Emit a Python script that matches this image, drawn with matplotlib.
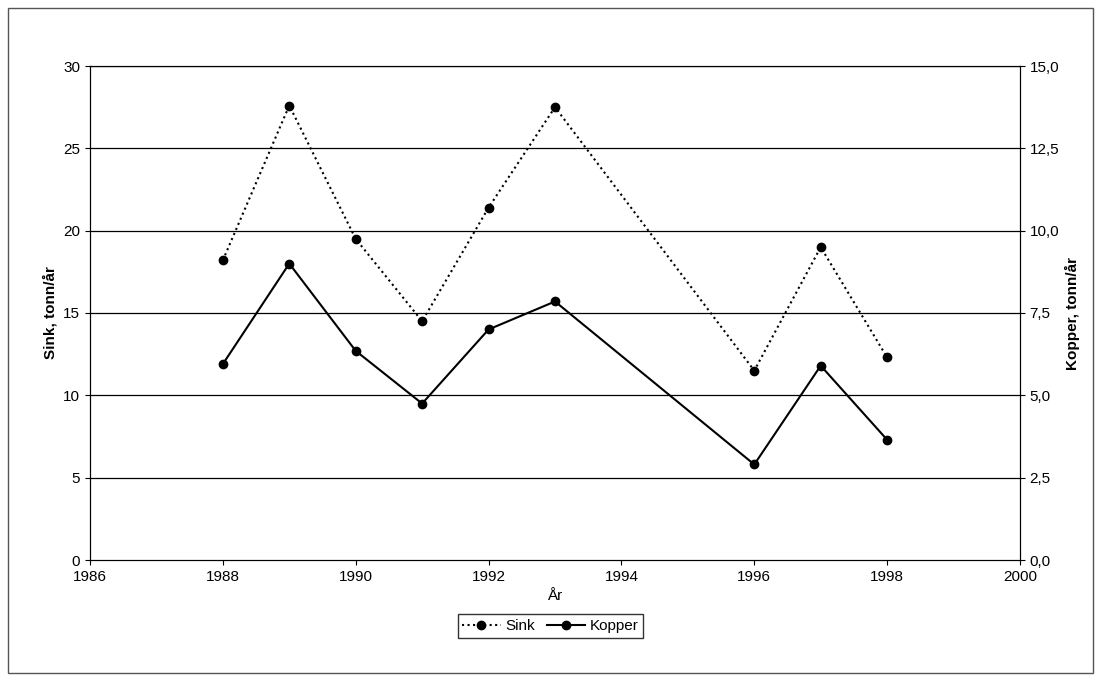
import matplotlib.pyplot as plt
from matplotlib.patches import Rectangle
from matplotlib.ticker import FuncFormatter

years = [1988, 1989, 1990, 1991, 1992, 1993, 1996, 1997, 1998]
sink = [18.2, 27.6, 19.5, 14.5, 21.4, 27.5, 11.5, 19.0, 12.3]
kopper = [5.95, 9.0, 6.35, 4.75, 7.0, 7.85, 2.9, 5.9, 3.65]

W, H = 1101, 681
fig = plt.figure(figsize=(W / 100, H / 100), dpi=100)
plt.rcParams['font.family'] = ['Liberation Sans', 'DejaVu Sans']
fig.patches.append(Rectangle((8 / W, 8 / H), 1 - 16 / W, 1 - 16 / H, transform=fig.transFigure,
                             fill=False, edgecolor='#555555', linewidth=1))

ax = fig.add_axes([90 / W, 1 - 560 / H, 930 / W, 494 / H])
ax.set_xlim(1986, 2000)
ax.set_ylim(0, 30)
ax.set_xticks(range(1986, 2001, 2))
ax.set_yticks(range(0, 31, 5))
for y in range(5, 31, 5):
    ax.axhline(y, color='black', linewidth=0.9, zorder=0)
ax.plot(years, sink, ':', color='black', marker='o', markersize=6, linewidth=1.5, label='Sink')
ax.set_ylabel('Sink, tonn/år', fontsize=11, fontweight='bold')
ax.set_xlabel('År', fontsize=11)
ax.tick_params(labelsize=11)

ax2 = ax.twinx()
ax2.set_ylim(0, 15)
ax2.set_yticks([0, 2.5, 5, 7.5, 10, 12.5, 15])
ax2.yaxis.set_major_formatter(FuncFormatter(lambda v, p: f'{v:.1f}'.replace('.', ',')))
ax2.plot(years, kopper, '-', color='black', marker='o', markersize=6, linewidth=1.5, label='Kopper')
ax2.set_ylabel('Kopper, tonn/år', fontsize=11, fontweight='bold')
ax2.tick_params(labelsize=11)

h1, l1 = ax.get_legend_handles_labels()
h2, l2 = ax2.get_legend_handles_labels()
fig.legend(h1 + h2, l1 + l2, loc='center', bbox_to_anchor=(0.5, 1 - 626 / H), ncol=2,
           fontsize=11, frameon=True, fancybox=False, edgecolor='black',
           handlelength=2.5, columnspacing=0.8, handletextpad=0.3, borderpad=0.3)

fig.savefig('out.png', dpi=100)
